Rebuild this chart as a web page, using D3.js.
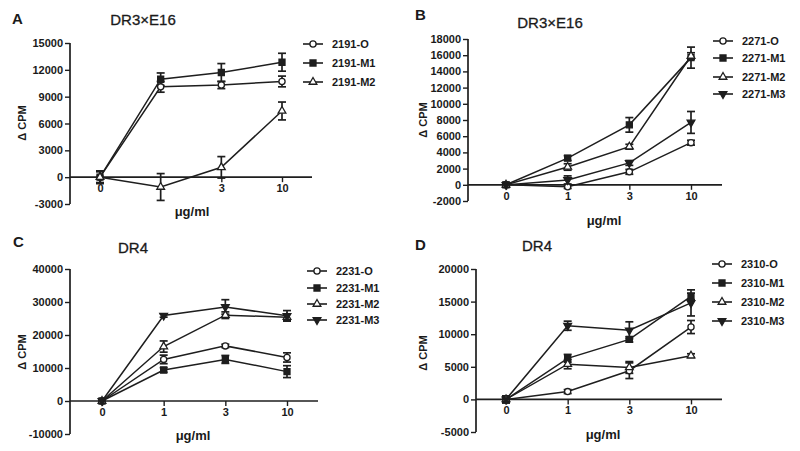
<!DOCTYPE html>
<html><head><meta charset="utf-8">
<script src="https://cdn.jsdelivr.net/npm/d3@7"></script>
<style>
body{margin:0;background:#fff;}
text{font-family:"Liberation Sans",Arial,sans-serif;fill:#1a1a1a;}
</style></head>
<body><svg id="chart" width="800" height="451"></svg>
<script>
// ---- data ----
const doses = ["0","1","3","10"];

const seriesA = ["2191-O","2191-M1","2191-M2"];
const valuesA = [[0,10100,10300,10700],[0,10950,11700,12850],[0,-1100,1100,7400]];
const errorsA = [[600,600,400,600],[700,700,1000,1000],[700,1500,1200,1000]];
const yTicksA = [15000,12000,9000,6000,3000,0,-3000];
const xTicksA = ["0","3","10"];

const seriesB = ["2271-O","2271-M1","2271-M2","2271-M3"];
const valuesB = [[0,-250,1600,5200],[0,3300,7400,15700],[0,2200,4700,15900],[0,600,2700,7700]];
const errorsB = [[200,200,300,300],[300,300,900,1300],[200,400,300,400],[200,500,300,1350]];
const yTicksB = [18000,16000,14000,12000,10000,8000,6000,4000,2000,0,-2000];
const xTicksB = ["0","1","3","10"];

const seriesC = ["2231-O","2231-M1","2231-M2","2231-M3"];
const valuesC = [[0,12600,16700,13200],[0,9400,12600,8900],[0,16500,26000,25400],[0,25900,28500,25800]];
const errorsC = [[600,1300,500,1400],[600,700,1200,1800],[600,1700,1000,900],[600,500,2200,1600]];
const yTicksC = [40000,30000,20000,10000,0,-10000];
const xTicksC = ["0","1","3","10"];

const seriesD = ["2310-O","2310-M1","2310-M2","2310-M3"];
const valuesD = [[0,1200,4400,11100],[0,6300,9200,15800],[0,5400,4900,6700],[0,11300,10600,14800]];
const errorsD = [[500,300,1200,1000],[500,600,400,500],[500,700,900,300],[500,700,1300,2000]];
const yTicksD = [20000,15000,10000,5000,0,-5000];
const xTicksD = ["0","1","3","10"];

// ---- drawing ----
const svg = d3.select("#chart");
const ink = "#1e1e1e";
const symbolFor = [
  {type:d3.symbolCircle, size:30, fill:"#fff", rot:0},
  {type:d3.symbolSquare, size:36, fill:ink, rot:0},
  {type:d3.symbolTriangle, size:26, fill:"#fff", rot:0},
  {type:d3.symbolTriangle, size:26, fill:ink, rot:180}
];

function panel(cfg){
  const g = svg.append("g").attr("transform",`translate(${cfg.ox},${cfg.oy})`);
  const y = d3.scaleLinear().domain([cfg.yTicks[cfg.yTicks.length-1], cfg.yTicks[0]]).range([cfg.yBot, cfg.yTop]);
  const x = d3.scalePoint().domain(doses).range([cfg.x0, cfg.x10]);

  // y axis
  const ya = g.append("g").attr("transform",`translate(${cfg.axX},0)`)
    .call(d3.axisLeft(y).tickValues(cfg.yTicks).tickSize(5).tickPadding(2).tickFormat(d => String(d)));
  ya.select(".domain").attr("d",`M0,${y(cfg.yTicks[0])}V${y(cfg.yTicks[cfg.yTicks.length-1])}`)
    .attr("stroke",ink).attr("stroke-width",1.7);
  ya.selectAll(".tick line").attr("stroke",ink).attr("stroke-width",1.4);
  ya.selectAll(".tick text").style("font-size","11px").style("font-weight","bold").attr("fill",ink);

  // x axis at y=0
  const xa = g.append("g").attr("transform",`translate(0,${y(0)})`)
    .call(d3.axisBottom(x).tickValues(cfg.xTicks).tickSize(5).tickPadding(2));
  xa.select(".domain").attr("d",`M${cfg.axX},0H${cfg.axEnd}`).attr("stroke",ink).attr("stroke-width",1.7);
  xa.selectAll(".tick line").attr("stroke",ink).attr("stroke-width",1.4);
  xa.selectAll(".tick text").style("font-size","11px").style("font-weight","bold").attr("fill",ink);

  const line = d3.line().x((d,i)=>x(doses[i])).y(d=>y(d));
  cfg.values.forEach((vals,s)=>{
    g.append("path").attr("d",line(vals)).attr("fill","none").attr("stroke",ink).attr("stroke-width",1.5);
  });
  cfg.values.forEach((vals,s)=>{
    vals.forEach((v,i)=>{
      const e = cfg.errors[s][i], cx = x(doses[i]);
      const eb = g.append("g").attr("stroke",ink).attr("stroke-width",1.7);
      eb.append("line").attr("x1",cx).attr("x2",cx).attr("y1",y(v+e)).attr("y2",y(v-e));
      eb.append("line").attr("x1",cx-4).attr("x2",cx+4).attr("y1",y(v+e)).attr("y2",y(v+e));
      eb.append("line").attr("x1",cx-4).attr("x2",cx+4).attr("y1",y(v-e)).attr("y2",y(v-e));
    });
  });
  cfg.values.forEach((vals,s)=>{
    const sym = symbolFor[s];
    vals.forEach((v,i)=>{
      g.append("path").attr("d",d3.symbol().type(sym.type).size(sym.size)())
        .attr("transform",`translate(${x(doses[i])},${y(v)}) rotate(${sym.rot})`)
        .attr("fill",sym.fill).attr("stroke",ink).attr("stroke-width",1.3);
    });
  });

  // legend
  cfg.series.forEach((name,s)=>{
    const ly = cfg.legY[s], sym = symbolFor[s];
    g.append("line").attr("x1",cfg.legX).attr("x2",cfg.legX+20).attr("y1",ly).attr("y2",ly)
      .attr("stroke",ink).attr("stroke-width",1.6);
    g.append("path").attr("d",d3.symbol().type(sym.type).size(sym.size)())
      .attr("transform",`translate(${cfg.legX+10},${ly}) rotate(${sym.rot})`)
      .attr("fill",sym.fill).attr("stroke",ink).attr("stroke-width",1.3);
    g.append("text").attr("x",cfg.legX+29).attr("y",ly+4).text(name)
      .style("font-size","11px").style("font-weight","bold");
  });

  // labels
  g.append("text").attr("x",cfg.letter[0]).attr("y",cfg.letter[1]).text(cfg.letterText)
    .style("font-size","15px").style("font-weight","bold");
  g.append("text").attr("x",cfg.title[0]).attr("y",cfg.title[1]).attr("text-anchor","middle")
    .text(cfg.titleText).style("font-size","15px").style("stroke","#1a1a1a").style("stroke-width","0.3px");
  g.append("text").attr("transform",`translate(${cfg.ylab[0]},${cfg.ylab[1]}) rotate(-90)`)
    .attr("text-anchor","middle").text("Δ CPM").style("font-size","11px").style("font-weight","bold");
  g.append("text").attr("x",cfg.xlab[0]).attr("y",cfg.xlab[1]).attr("text-anchor","middle")
    .text("μg/ml").style("font-size","13px").style("font-weight","bold");
}

panel({ox:0,oy:0,series:seriesA,values:valuesA,errors:errorsA,yTicks:yTicksA,xTicks:xTicksA,
  yTop:43,yBot:204,x0:100,x10:282,axX:70,axEnd:312,
  legX:303,legY:[44,63,82],letter:[12,24],letterText:"A",title:[143,25],titleText:"DR3×E16",
  ylab:[26,123],xlab:[192,216]});
panel({ox:400,oy:0,series:seriesB,values:valuesB,errors:errorsB,yTicks:yTicksB,xTicks:xTicksB,
  yTop:39,yBot:201,x0:106,x10:291,axX:68,axEnd:322,
  legX:313,legY:[41,58,77,94],letter:[15,20],letterText:"B",title:[150,28],titleText:"DR3×E16",
  ylab:[27,120],xlab:[204,225]});
panel({ox:0,oy:225,series:seriesC,values:valuesC,errors:errorsC,yTicks:yTicksC,xTicks:xTicksC,
  yTop:44,yBot:209,x0:102,x10:287,axX:70,axEnd:318,
  legX:307,legY:[46,63,79,95],letter:[13,22],letterText:"C",title:[133,28],titleText:"DR4",
  ylab:[26,127],xlab:[193,215]});
panel({ox:400,oy:225,series:seriesD,values:valuesD,errors:errorsD,yTicks:yTicksD,xTicks:xTicksD,
  yTop:44,yBot:207,x0:106,x10:291,axX:76,axEnd:322,
  legX:312,legY:[39,58,77,96],letter:[15,25],letterText:"D",title:[137,26],titleText:"DR4",
  ylab:[27,128],xlab:[203,214]});
</script></body></html>
